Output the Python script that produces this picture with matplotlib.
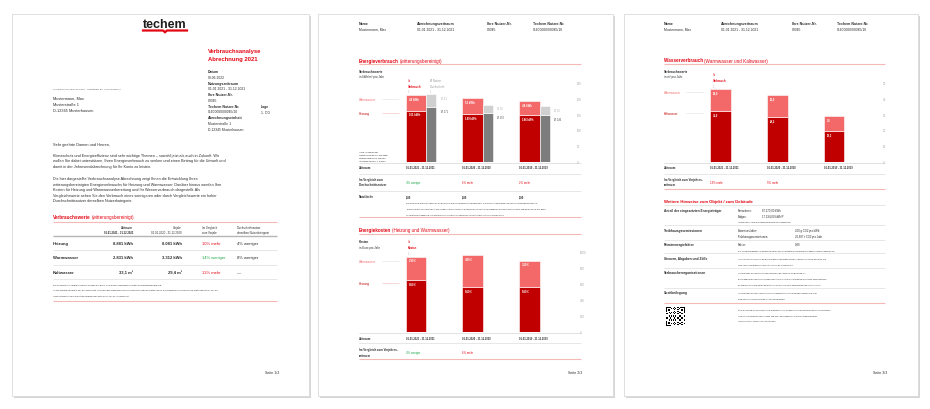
import numpy as np
import matplotlib.pyplot as plt
from matplotlib.patches import Rectangle

plt.rcParams['font.family'] = ['Liberation Sans', 'DejaVu Sans']

# ---- data ----
zeitraeume = ["01.01.2021 - 31.12.2021", "01.01.2020 - 31.12.2020", "01.01.2019 - 31.12.2019"]

energie_heizung = [161, 149, 146]
energie_warmwasser = [48, 51, 44]
vergleich_heizung = [171, 152, 146]
vergleich_warmwasser = [41, 28, 28]
energie_vergleich = ["4% weniger", "6% mehr", "2% mehr"]
energie_ticks = [0, 50, 100, 150, 200, 250]

kosten_heizung = [650, 560, 560]
kosten_warmwasser = [290, 400, 330]
kosten_vergleich = ["4% weniger", "6% mehr"]
kosten_ticks = [0, 200, 400, 600, 800, 1000]

wasser_kalt = [32.0, 28.2, 19.3]
wasser_warm = [14.0, 13.9, 9.5]
wasser_vergleich = ["13% mehr", "5% mehr"]
wasser_ticks = [0, 10, 20, 30, 40, 50]

table_rows = ["Heizung", "Warmwasser", "Kaltwasser"]
table_ist = ["8.881 kWh", "2.831 kWh", "33,1 m³"]
table_vorjahr = ["8.081 kWh", "3.312 kWh", "29,4 m³"]
table_vergleich = ["10% mehr", "14% weniger", "13% mehr"]
table_durchschnitt = ["4% weniger", "8% weniger", "—"]

W, H = 930, 410
RED = '#e30613'
DARK = '#c00000'
LIGHT = '#f36868'
GREEN = '#1fa84a'
TXT = '#2b2b2b'
PINK = '#f5b8b8'
GRID = '#e3e3e3'

fig = plt.figure(figsize=(9.3, 4.1), dpi=100)
ax = fig.add_axes([0, 0, 1, 1])
ax.axis('off')


def t(x, y, s, size=2.6, color=TXT, weight='normal', ha='left'):
    return ax.text(x, y, s, fontsize=size, color=color, fontweight=weight,
                   ha=ha, va='center')


def hline(x0, x1, y, color=GRID, lw=0.5):
    ax.plot([x0, x1], [y, y], color=color, lw=lw, solid_capstyle='butt')


def title2(x, y, bold, rest, size=3.3):
    a = t(x, y, bold, size=size, color=RED, weight='bold')
    ax.annotate(rest, xy=(1, 0.5), xycoords=a, xytext=(0.8, 0),
                textcoords='offset points', fontsize=size, color=RED,
                va='center', ha='left')


def page(x0, x1):
    ax.add_patch(Rectangle((x0 + 1.5, 16.5), x1 - x0, 382, fc='#d6d6d6', ec='none'))
    ax.add_patch(Rectangle((x0, 15), x1 - x0, 382, fc='white', ec='#d9d9d9', lw=0.6))


def bar_axes(x0, x1, y0, y1, c0, step, ymax, ticks):
    ch = fig.add_axes([x0 / W, 1 - y1 / H, (x1 - x0) / W, (y1 - y0) / H])
    ch.set_xlim((x0 - c0) / step, (x1 - c0) / step)
    ch.set_ylim(0, ymax)
    for s in ch.spines.values():
        s.set_visible(False)
    ch.set_xticks([])
    ch.yaxis.tick_right()
    ch.set_yticks(ticks)
    ch.tick_params(axis='y', length=0, pad=1.2, labelsize=2.1, labelcolor='#a8a8a8')
    ch.patch.set_alpha(0)
    return ch


def inner_label(ch, x, y, s):
    ch.annotate(s, (x, y), xytext=(2.2, -1.2), textcoords='offset points',
                fontsize=2.0, color='white', fontweight='bold', va='top', ha='left')


page(12, 309)
page(318, 613)
page(624, 918)

# ================= page 1 =================
t(165, 25, "techem", size=9, color='#1d1d1b', weight='bold', ha='center')
ax.plot([143, 163, 165, 167, 187], [31.5, 31.5, 33.2, 31.5, 31.5], color=RED, lw=1.6,
        solid_joinstyle='miter')

t(208, 52, "Verbrauchsanalyse", size=4.2, color=RED, weight='bold')
t(208, 60, "Abrechnung 2021", size=4.2, color=RED, weight='bold')

info = [("Datum", "09.06.2022"), ("Nutzungszeitraum", "01.01.2021 - 31.12.2021"),
        ("Ihre Nutzer-Nr.", "00045"), ("Techem Nutzer-Nr.", "01600000/00045/10"),
        ("Abrechnungseinheit", "Musterstraße 1")]
y = 72
for lab, val in info:
    t(208, y, lab, size=2.5, weight='bold')
    t(208, y + 5.7, val, size=2.4)
    y += 11.5
t(208, 130, "D-12345 Musterhausen", size=2.4)
t(261, 107, "Lage", size=2.5, weight='bold')
t(261, 112.5, "1. OG", size=2.4)

t(53, 89, "Techem Energy Services GmbH · Hauptstraße 89 · 65760 Eschborn", size=1.6, color='#555555')
t(53, 99, "Mustermann, Max", size=2.8)
t(53, 105, "Musterstraße 1", size=2.8)
t(53, 111, "D-12345 Musterhausen", size=2.8)

t(53, 145, "Sehr geehrte Damen und Herren,", size=2.8)
p1 = ["Klimaschutz und Energieeffizienz sind sehr wichtige Themen – sowohl jetzt als auch in Zukunft. Wir",
      "wollen Sie dabei unterstützen, Ihren Energieverbrauch zu senken und einen Beitrag für die Umwelt und",
      "damit in der Jahresendabrechnung für Ihr Konto zu leisten."]
for i, line in enumerate(p1):
    t(53, 156 + i * 5.5, line, size=2.7)
p2 = ["Die hier dargestellte Verbrauchsanalyse Abrechnung zeigt Ihnen die Entwicklung Ihres",
      "witterungsbereinigten Energieverbrauchs für Heizung und Warmwasser. Darüber hinaus werden Ihre",
      "Kosten für Heizung und Warmwasserbereitung und Ihr Wasserverbrauch dargestellt. Als",
      "Vergleichswerte sehen Sie den Verbrauch eines sonnigeren oder durch Vergleichswerte ein hoher",
      "Durchschnittsnutzer derselben Nutzerkategorie."]
for i, line in enumerate(p2):
    t(53, 179 + i * 5.6, line, size=2.7)

title2(53, 218, "Verbrauchswerte", "(witterungsbereinigt)")
hline(53, 277, 223, PINK, 0.8)
t(133, 228, "Zeitraum", size=2.0, weight='bold', ha='right')
t(133, 233, zeitraeume[0], size=2.0, weight='bold', ha='right')
t(182, 228, "Vorjahr", size=2.0, ha='right')
t(182, 233, zeitraeume[1], size=2.0, ha='right')
t(202, 228, "Im Vergleich", size=2.0)
t(202, 233, "zum Vorjahr", size=2.0)
t(237, 228, "Durchschnittsnutzer", size=2.0)
t(237, 233, "derselben Nutzerkategorie", size=2.0)
hline(53, 277, 237, '#b5b5b5', 1.0)
for i, name in enumerate(table_rows):
    yy = 244 + i * 14.5
    t(53, yy, name, size=3.0, weight='bold')
    t(133, yy, table_ist[i], size=3.0, weight='bold', ha='right')
    t(182, yy, table_vorjahr[i], size=3.0, weight='bold', ha='right')
    col = GREEN if "weniger" in table_vergleich[i] else RED
    t(202, yy, table_vergleich[i], size=3.0, color=col)
    t(237, yy, table_durchschnitt[i], size=3.0)
    hline(53, 277, yy + 7, GRID, 0.6)
t(53, 285, "Die dargestellten Verbrauchswerte wurden auf Basis Ihrer Erfassungsgeräte ermittelt und witterungsbereinigt.", size=1.6)
t(53, 290.5, "In den Werten ist bereits der ausgewiesene Anteil für den Wärmeverlust durch Rohrleitungen enthalten (Basis Gradtagzahlen des Deutschen Wetterdienstes). Für die", size=1.6)
t(53, 296, "Heizkostenabrechnung wird der Wärmeverbrauch nach VDI 2077 berechnet.", size=1.6)
hline(53, 277, 302, PINK, 0.8)
t(265, 373, "Seite 1/3", size=2.6)


# ================= page headers =================
def page_header(xs):
    labels = ["Name", "Abrechnungszeitraum", "Ihre Nutzer-Nr.", "Techem Nutzer-Nr."]
    vals = ["Mustermann, Max", zeitraeume[0], "00045", "01600000/00045/10"]
    for x, lab, val in zip(xs, labels, vals):
        t(x, 24, lab, size=2.5, weight='bold')
        t(x, 30, val, size=2.4)


page_header([359, 417, 487, 533])
page_header([664, 721, 792, 837])

# ================= page 2, chart 1 =================
bw, gw, step = 0.37, 0.176, 56.75
off = bw / 2 + gw / 2
idx = np.arange(3)

title2(359, 61, "Energieverbrauch", "(witterungsbereinigt)")
hline(359, 581, 64.5, PINK, 0.8)
t(359, 72, "Verbrauchswerte", size=2.2, weight='bold')
t(359, 77, "in kWh/m² pro Jahr", size=2.1)
t(408, 81, "Ist", size=2.0, color=RED)
t(408, 87, "Verbrauch", size=2.0, color=RED, weight='bold')
t(408, 92, "1", size=2.0, color='#bbbbbb')
t(430, 81, "Ø Nutzer", size=2.0, color='#999999')
t(430, 87, "Durchschnitt", size=2.0, color='#999999')
t(430, 92, "1", size=2.0, color='#bbbbbb')
t(359, 100, "Warmwasser", size=2.1, color=LIGHT)
hline(382, 399, 100, '#e6e6e6', 0.5)
t(359, 114, "Heizung", size=2.1, color=DARK)
hline(382, 399, 114, '#f3c8c8', 0.5)
foot = ["* Die Angaben für", "Heizung basieren auf witte-", "rungsbereinigten Werten", "(Gradtagzahlen, 1 DWD)."]
for i, line in enumerate(foot):
    t(359, 152 + i * 3.2, line, size=1.7)

ch1 = bar_axes(400, 575, 78, 162.5, 416, step, 267, energie_ticks)
tot1 = np.add(energie_heizung, energie_warmwasser)
vtot1 = np.add(vergleich_heizung, vergleich_warmwasser)
ch1.bar(idx, energie_heizung, width=bw, color=DARK, edgecolor='white', lw=0.4)
ch1.bar(idx, energie_warmwasser, bottom=energie_heizung, width=bw, color=LIGHT,
        edgecolor='white', lw=0.4)
ch1.bar(idx + off, vergleich_heizung, width=gw, color='#7d7d7d', edgecolor='white', lw=0.4)
ch1.bar(idx + off, vergleich_warmwasser, bottom=vergleich_heizung, width=gw, color='#d0d0d0',
        edgecolor='white', lw=0.4)
for i in idx:
    inner_label(ch1, i - bw / 2, tot1[i], f"{energie_warmwasser[i]} kWh")
    inner_label(ch1, i - bw / 2, energie_heizung[i], f"{energie_heizung[i]} kWh")
    ch1.annotate(f"Ø {vergleich_warmwasser[i]}", (i + off + gw / 2, vtot1[i]), xytext=(3, -1),
                 textcoords='offset points', fontsize=1.9, color='#b5b5b5', va='top')
    ch1.annotate(f"Ø {vergleich_heizung[i]}", (i + off + gw / 2, vergleich_heizung[i]),
                 xytext=(3, -1), textcoords='offset points', fontsize=1.9, color='#555555', va='top')

hline(359, 581, 163.5, '#dddddd', 0.6)
t(359, 168, "Zeitraum", size=2.1, weight='bold')
for i, z in enumerate(zeitraeume):
    t(416 + i * step - 10.5, 168, z, size=1.8, weight='bold')
hline(359, 581, 175, GRID, 0.6)
t(359, 180, "Im Vergleich zum", size=2.1, weight='bold')
t(359, 185, "Durchschnittsnutzer", size=2.1, weight='bold')
for i, v in enumerate(energie_vergleich):
    col = GREEN if "weniger" in v else RED
    t(416 + i * step - 10.5, 183, v, size=2.0, color=col)
hline(359, 581, 192, GRID, 0.6)
t(359, 197, "Nutzfläche", size=2.1, weight='bold')
for i in range(3):
    t(416 + i * step - 10.5, 197, "1,00", size=2.0, weight='bold')
para = ["Die Nutzfläche ist die Grundlage für die Berechnung des Verbrauchs pro Quadratmeter. Sie entspricht der Fläche Ihrer Wohnung laut Mietvertrag bzw.",
        "Teilungserklärung und ermöglicht den Vergleich Ihres Verbrauchs mit dem Durchschnitt. Witterungsbereinigte Werte gleichen kalte und warme Jahre aus, damit",
        "Ihr Verbrauch unabhängig vom Wetter mit den Vorjahren und dem Durchschnittsnutzer verglichen werden kann."]
for i, line in enumerate(para):
    t(406, 203 + i * 6, line, size=1.45)
hline(359, 581, 217.5, PINK, 0.8)

# ================= page 2, chart 2 =================
title2(359, 231, "Energiekosten", "(Heizung und Warmwasser)")
hline(359, 581, 234.5, PINK, 0.8)
t(359, 242, "Kosten", size=2.2, weight='bold')
t(359, 248, "in Euro pro Jahr", size=2.1)
t(408, 242, "Ist", size=2.0, color=RED)
t(408, 248, "Kosten", size=2.0, color=RED, weight='bold')
t(408, 254, "1", size=2.0, color='#bbbbbb')
t(359, 262, "Warmwasser", size=2.1, color=LIGHT)
hline(382, 399, 262, '#e6e6e6', 0.5)
t(359, 284, "Heizung", size=2.1, color=DARK)
hline(382, 399, 284, '#f3c8c8', 0.5)

ch2 = bar_axes(400, 578, 248, 333, 416, step, 1062, kosten_ticks)
tot2 = np.add(kosten_heizung, kosten_warmwasser)
ch2.bar(idx, kosten_heizung, width=bw, color=DARK, edgecolor='white', lw=0.4)
ch2.bar(idx, kosten_warmwasser, bottom=kosten_heizung, width=bw, color=LIGHT,
        edgecolor='white', lw=0.4)
for i in idx:
    inner_label(ch2, i - bw / 2, tot2[i], f"{kosten_warmwasser[i]} €")
    inner_label(ch2, i - bw / 2, kosten_heizung[i], f"{kosten_heizung[i]} €")

hline(359, 581, 334, '#dddddd', 0.6)
t(359, 339, "Zeitraum", size=2.1, weight='bold')
for i, z in enumerate(zeitraeume):
    t(416 + i * step - 10.5, 339, z, size=1.8, weight='bold')
hline(359, 581, 344, GRID, 0.6)
t(359, 350, "Im Vergleich zum Vorjahres-", size=2.1, weight='bold')
t(359, 356, "zeitraum", size=2.1, weight='bold')
for i, v in enumerate(kosten_vergleich):
    col = GREEN if "weniger" in v else RED
    t(416 + i * step - 10.5, 353, v, size=2.0, color=col)
hline(359, 581, 360, PINK, 0.8)
t(568, 373, "Seite 2/3", size=2.6)

# ================= page 3, chart =================
title2(664, 61, "Wasserverbrauch", "(Warmwasser und Kaltwasser)")
hline(664, 885, 64.5, PINK, 0.8)
t(664, 72, "Verbrauchswerte", size=2.2, weight='bold')
t(664, 77, "in m³ pro Jahr", size=2.1)
t(713, 75, "Ist", size=2.0, color=RED)
t(713, 81, "Verbrauch", size=2.0, color=RED, weight='bold')
t(713, 87, "1", size=2.0, color='#bbbbbb')
t(664, 93, "Warmwasser", size=2.1, color=LIGHT)
hline(686, 704, 93, '#e6e6e6', 0.5)
t(664, 114, "Kaltwasser", size=2.1, color=DARK)
hline(686, 704, 114, '#e6e6e6', 0.5)

ch3 = bar_axes(705, 881, 78, 162.5, 720.5, step, 53.5, wasser_ticks)
tot3 = np.add(wasser_kalt, wasser_warm)
ch3.bar(idx, wasser_kalt, width=bw, color=DARK, edgecolor='white', lw=0.4)
ch3.bar(idx, wasser_warm, bottom=wasser_kalt, width=bw, color=LIGHT, edgecolor='white', lw=0.4)
for i in idx:
    inner_label(ch3, i - bw / 2, tot3[i], f"{wasser_warm[i]:.1f}".replace('.', ','))
    inner_label(ch3, i - bw / 2, wasser_kalt[i], f"{wasser_kalt[i]:.1f}".replace('.', ','))

hline(664, 885, 163.5, '#dddddd', 0.6)
t(664, 168, "Zeitraum", size=2.1, weight='bold')
for i, z in enumerate(zeitraeume):
    t(720.5 + i * step - 10.5, 168, z, size=1.8, weight='bold')
hline(664, 885, 175, GRID, 0.6)
t(664, 180, "Im Vergleich zum Vorjahres-", size=2.1, weight='bold')
t(664, 185, "zeitraum", size=2.1, weight='bold')
for i, v in enumerate(wasser_vergleich):
    col = GREEN if "weniger" in v else RED
    t(720.5 + i * step - 10.5, 183, v, size=2.0, color=col)
hline(664, 885, 189.5, PINK, 0.8)

# ================= page 3, notes =================
t(664, 202, "Weitere Hinweise zum Objekt / zum Gebäude", size=3.1, color=RED, weight='bold')
hline(664, 885, 206, GRID, 0.6)
notes = [
    (211, "Anteil der eingesetzten Energieträger", 226),
    (231, "Treibhausgasemissionen", 241),
    (245, "Primärenergiefaktor", 254),
    (259, "Steuern, Abgaben und Zölle", 269),
    (273, "Verbraucherorganisationen", 289),
    (293, "Streitbeilegung", None),
]
for yy, lab, sep in notes:
    t(664, yy, lab, size=2.3, weight='bold')
    if sep:
        hline(664, 885, sep, GRID, 0.6)
t(738, 211, "Fernwärme:", size=2.0)
t(762, 211, "87.270,00 kWh", size=2.0)
t(738, 217, "Erdgas:", size=2.0)
t(762, 217, "17.194,00 kWh/P", size=2.0)
t(738, 222, "* prozentualer Anteil am Gesamtverbrauch der Liegenschaft", size=1.45)
t(738, 231, "Emissionsfaktor:", size=2.0)
t(795, 231, "200 g CO2 pro kWh", size=2.0)
t(738, 237, "Treibhausgasemissionen:", size=2.0)
t(795, 237, "20,687 t CO2 pro Jahr", size=2.0)
t(738, 245, "Faktor:", size=2.0)
t(795, 245, "0,80", size=2.0)
small = [
    (251, "Der Primärenergiefaktor bildet das Verhältnis von eingesetzter Primärenergie zu abgegebener Endenergie ab."),
    (259, "In den Kosten sind die auf die Energieträger entfallenden Steuern, Abgaben und Zölle enthalten. Die"),
    (265, "CO2-Abgabe wird gemäß CO2KostAufG auf die Nutzer verteilt."),
    (273, "Informationen zu Verbraucherorganisationen, die Angebote zur Beratung zur"),
    (279, "Energieeffizienzverbesserung, Endnutzer-Vergleichsprofile und objektive technische Spezifikationen"),
    (285, "für energiebetriebene Geräte bereitstellen, erhalten Sie unter www.energieeffizienz-online.info"),
    (293, "Informationen zu einer Verbraucherschlichtungsstelle und Streitbeilegung finden Sie unter"),
    (299, "www.verbraucher-schlichter.de zur Verfügung gestellt."),
    (310, "Über diesen QR-Code gelangen Sie direkt auf unsere Homepage und die weiterführenden Informationen"),
    (316, "rund um Ihre Heizkostenabrechnung und Tipps zur Reduzierung Ihres Energieverbrauchs"),
    (321, "Abrechnung zur Verfügung gestellt werden."),
]
for yy, line in small:
    t(738, yy, line, size=1.45)
hline(664, 885, 303.5, PINK, 0.8)

# QR code (decorative)
n = 25
ii, jj = np.meshgrid(np.arange(n), np.arange(n), indexing='ij')
qr = ((ii * 7 + jj * 11 + ii * jj) % 5 < 2).astype(float)
for (r, c) in [(0, 0), (0, n - 7), (n - 7, 0)]:
    qr[r:r + 7, c:c + 7] = 1
    qr[r + 1:r + 6, c + 1:c + 6] = 0
    qr[r + 2:r + 5, c + 2:c + 5] = 1
ax.imshow(1 - qr, cmap='gray', extent=(666, 685, 327, 308), aspect='auto',
          interpolation='nearest', vmin=0, vmax=1, zorder=3)

t(873, 373, "Seite 3/3", size=2.6)

ax.set_xlim(0, W)
ax.set_ylim(H, 0)
fig.savefig("out.png", dpi=100, facecolor='white')
